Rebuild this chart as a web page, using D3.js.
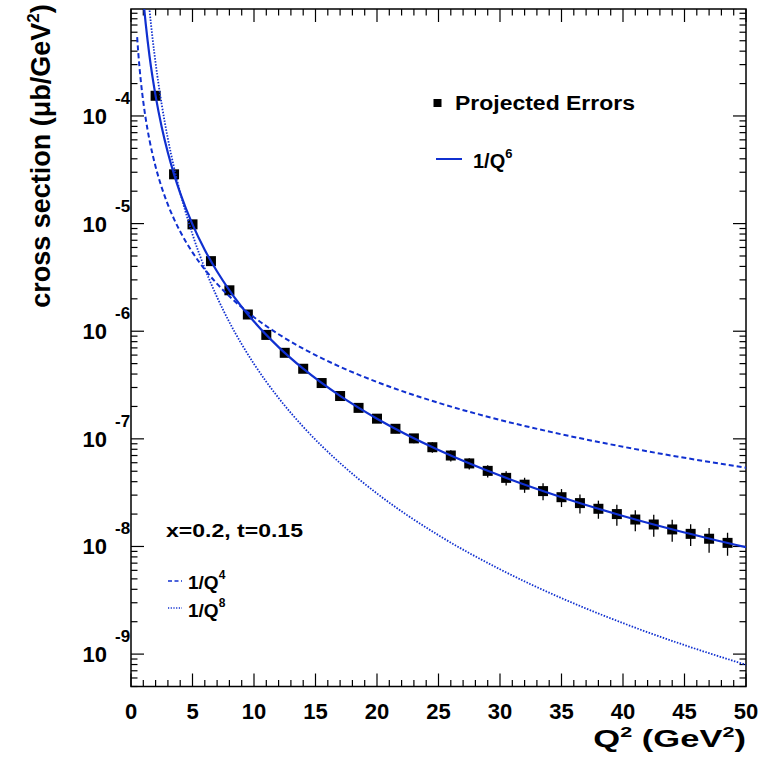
<!DOCTYPE html>
<html><head><meta charset="utf-8">
<script src="https://cdn.jsdelivr.net/npm/d3@7"></script>
<style>
html,body{margin:0;padding:0;background:#fff;}
text{font-family:"Liberation Sans",Arial,Helvetica,sans-serif;font-weight:bold;fill:#000;}
</style></head>
<body><svg id="c" width="761" height="758"></svg>
<script>
// ---- data ----
const pointQ2 = [2,3.5,5,6.5,8,9.5,11,12.5,14,15.5,17,18.5,20,21.5,23,24.5,26,27.5,29,30.5,32,33.5,35,36.5,38,39.5,41,42.5,44,45.5,47,48.5];
const pointXS = [1.54e-4,2.87e-5,9.84e-6,4.48e-6,2.40e-6,1.43e-6,9.24e-7,6.30e-7,4.48e-7,3.30e-7,2.50e-7,1.94e-7,1.54e-7,1.24e-7,1.01e-7,8.36e-8,7.00e-8,5.91e-8,5.04e-8,4.34e-8,3.75e-8,3.27e-8,2.87e-8,2.53e-8,2.24e-8,2.00e-8,1.78e-8,1.60e-8,1.44e-8,1.31e-8,1.18e-8,1.08e-8];
const pointRelErr = [0.02,0.03,0.03,0.04,0.04,0.05,0.05,0.06,0.07,0.07,0.08,0.08,0.09,0.09,0.10,0.11,0.12,0.12,0.13,0.15,0.16,0.18,0.19,0.20,0.19,0.22,0.22,0.23,0.23,0.23,0.26,0.24];

const curveQ2 = [0.5,0.6,0.7,0.8,0.9,1.0,1.1,1.2,1.35,1.5,1.75,2,2.5,3,3.5,4,5,6,7,8,10,12,14,17,20,25,30,35,40,45,50];
const curveQ4 = [5.40e-4,3.75e-4,2.755e-4,2.109e-4,1.667e-4,1.35e-4,1.116e-4,9.375e-5,7.407e-5,6.0e-5,4.408e-5,3.375e-5,2.16e-5,1.5e-5,1.102e-5,8.44e-6,5.40e-6,3.75e-6,2.755e-6,2.109e-6,1.35e-6,9.375e-7,6.888e-7,4.671e-7,3.375e-7,2.16e-7,1.5e-7,1.102e-7,8.44e-8,6.667e-8,5.40e-8];
const curveQ6 = [null,null,null,null,null,1.23e-3,9.24e-4,7.118e-4,5.0e-4,3.644e-4,2.295e-4,1.5375e-4,7.872e-5,4.556e-5,2.869e-5,1.922e-5,9.84e-6,5.694e-6,3.586e-6,2.402e-6,1.23e-6,7.118e-7,4.483e-7,2.504e-7,1.5375e-7,7.872e-8,4.556e-8,2.869e-8,1.922e-8,1.35e-8,9.84e-9];
const curveQ8 = [null,null,null,null,null,null,null,null,1.496e-3,9.817e-4,5.299e-4,3.106e-4,1.272e-4,6.136e-5,3.312e-5,1.941e-5,7.952e-6,3.835e-6,2.07e-6,1.213e-6,4.97e-7,2.397e-7,1.294e-7,5.951e-8,3.106e-8,1.272e-8,6.136e-9,3.312e-9,1.941e-9,1.212e-9,7.952e-10];

const xMajorTicks = [0,5,10,15,20,25,30,35,40,45,50];
const xMinorTicks = d3.range(0,51,1);
const yExponents = [-9,-8,-7,-6,-5,-4];
const xDomain = [0,50];
const yDomain = [5.0e-10, 9.86e-4];

// ---- layout ----
const L = 131, R = 746, T = 9, B = 686.5;
const blue = "#1030d0";
const svg = d3.select("#c");
const x = d3.scaleLinear().domain(xDomain).range([L,R]);
const y = d3.scaleLog().domain(yDomain).range([B,T]);

svg.append("defs").append("clipPath").attr("id","clip")
  .append("rect").attr("x",L).attr("y",T).attr("width",R-L).attr("height",B-T);

// ticks
const gT = svg.append("g").attr("stroke","#000").attr("stroke-width",1.2);
const MAJ = 13, MIN = 6.5;
xMinorTicks.forEach(v=>{
  const len = (v%5===0)?MAJ:MIN, px = x(v);
  gT.append("line").attr("x1",px).attr("x2",px).attr("y1",B).attr("y2",B-len);
  gT.append("line").attr("x1",px).attr("x2",px).attr("y1",T).attr("y2",T+len);
});
const yMinor = [];
for (let e=-10;e<=-3;e++) for (let k=1;k<=9;k++){ const v=k*Math.pow(10,e); if(v>=yDomain[0]&&v<=yDomain[1]) yMinor.push({v, major:k===1}); }
yMinor.forEach(d=>{
  const len = d.major?MAJ:MIN, py = y(d.v);
  gT.append("line").attr("x1",L).attr("x2",L+len).attr("y1",py).attr("y2",py);
  gT.append("line").attr("x1",R).attr("x2",R-len).attr("y1",py).attr("y2",py);
});
svg.append("rect").attr("x",L).attr("y",T).attr("width",R-L).attr("height",B-T)
  .attr("fill","none").attr("stroke","#000").attr("stroke-width",1.5);

// tick labels
xMajorTicks.forEach(v=>{
  svg.append("text").attr("x",x(v)).attr("y",719).attr("text-anchor","middle")
    .attr("font-size",22).text(v);
});
yExponents.forEach(e=>{
  const py = y(Math.pow(10,e));
  svg.append("text").attr("x",107).attr("y",py+8).attr("text-anchor","end").attr("font-size",22).text("10");
  svg.append("text").attr("x",115).attr("y",py-12).attr("font-size",17).text(String(e));
});

// axis titles
const xt = svg.append("g").attr("transform","translate(746,747) scale(1.44,1)")
  .append("text").attr("text-anchor","end").attr("font-size",24);
xt.append("tspan").text("Q");
xt.append("tspan").attr("font-size",15).attr("dy",-10).text("2");
xt.append("tspan").attr("dy",10).text(" (GeV");
xt.append("tspan").attr("font-size",15).attr("dy",-10).text("2");
xt.append("tspan").attr("dy",10).text(")");

const yt = svg.append("text").attr("transform","translate(50,156) rotate(-90)").attr("text-anchor","middle").attr("font-size",27);
yt.append("tspan").text("cross section (\u03bcb/GeV");
yt.append("tspan").attr("font-size",17).attr("dy",-11).text("2");
yt.append("tspan").attr("dy",11).text(")");

// curves
const line = d3.line().defined(d=>d[1]!=null).x(d=>x(d[0])).y(d=>y(d[1])).curve(d3.curveMonotoneX);
const gC = svg.append("g").attr("clip-path","url(#clip)").attr("fill","none").attr("stroke",blue);
gC.append("path").attr("d",line(curveQ2.map((q,i)=>[q,curveQ4[i]]))).attr("stroke-width",2).attr("stroke-dasharray","5,3");
gC.append("path").attr("d",line(curveQ2.map((q,i)=>[q,curveQ8[i]]))).attr("stroke-width",1.8).attr("stroke-dasharray","1.5,1.5");

// data points with error bars
const gP = svg.append("g").attr("clip-path","url(#clip)");
pointQ2.forEach((q,i)=>{
  const v = pointXS[i], e = pointRelErr[i];
  gP.append("line").attr("x1",x(q)).attr("x2",x(q)).attr("y1",y(v*(1+e))).attr("y2",y(v*(1-e)))
    .attr("stroke","#000").attr("stroke-width",1.3);
  gP.append("rect").attr("x",x(q)-5).attr("y",y(v)-5).attr("width",10).attr("height",10).attr("fill","#000");
});
gC.append("path").attr("d",line(curveQ2.map((q,i)=>[q,curveQ6[i]]))).attr("stroke-width",2.2);
svg.node().appendChild(gC.node());

// legends
svg.append("rect").attr("x",433.5).attr("y",99).attr("width",8).attr("height",8).attr("fill","#000");
svg.append("text").attr("x",455).attr("y",110).attr("font-size",20).attr("textLength",180).attr("lengthAdjust","spacingAndGlyphs").text("Projected Errors");
svg.append("line").attr("x1",436).attr("x2",462).attr("y1",159).attr("y2",159).attr("stroke",blue).attr("stroke-width",2);
const l6 = svg.append("text").attr("x",473).attr("y",168).attr("font-size",20);
l6.append("tspan").text("1/Q"); l6.append("tspan").attr("font-size",13).attr("dy",-10).text("6");

svg.append("text").attr("x",166).attr("y",537).attr("font-size",19).attr("textLength",137).attr("lengthAdjust","spacingAndGlyphs").text("x=0.2, t=0.15");
svg.append("line").attr("x1",168).attr("x2",182).attr("y1",581).attr("y2",581).attr("stroke",blue).attr("stroke-width",1.5).attr("stroke-dasharray","4,2.5");
const l4 = svg.append("text").attr("x",188).attr("y",589).attr("font-size",19);
l4.append("tspan").text("1/Q"); l4.append("tspan").attr("font-size",12).attr("dy",-10).text("4");
svg.append("line").attr("x1",168).attr("x2",182).attr("y1",608).attr("y2",608).attr("stroke",blue).attr("stroke-width",1.5).attr("stroke-dasharray","1.2,1.5");
const l8 = svg.append("text").attr("x",188).attr("y",617).attr("font-size",19);
l8.append("tspan").text("1/Q"); l8.append("tspan").attr("font-size",12).attr("dy",-10).text("8");
</script></body></html>
